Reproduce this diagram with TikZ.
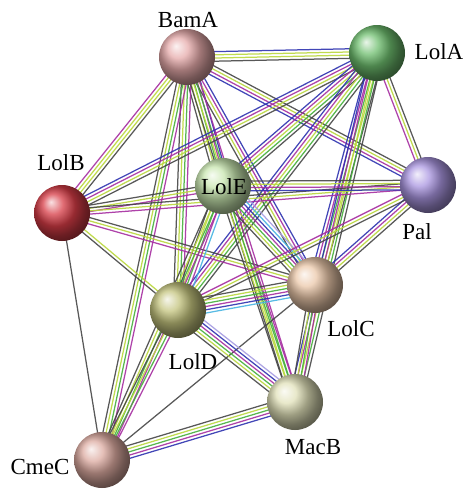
\documentclass[tikz,border=0pt]{standalone}
\usepackage{fontspec}
\setmainfont{Liberation Serif}
\usetikzlibrary{calc, backgrounds}
\definecolor{cK}{RGB}{70,70,70}
\definecolor{cY}{RGB}{185,215,60}
\definecolor{cG}{RGB}{70,175,60}
\definecolor{cP}{RGB}{165,45,160}
\definecolor{cB}{RGB}{45,50,175}
\definecolor{cC}{RGB}{70,180,225}
\definecolor{cH}{RGB}{165,155,225}
\definecolor{bama}{RGB}{230,170,170}
\definecolor{lola}{RGB}{110,190,110}
\definecolor{lolb}{RGB}{215,60,70}
\definecolor{lole}{RGB}{200,230,175}
\definecolor{pal}{RGB}{170,150,225}
\definecolor{lolc}{RGB}{235,200,170}
\definecolor{lold}{RGB}{195,195,125}
\definecolor{macb}{RGB}{225,225,185}
\definecolor{cmec}{RGB}{220,170,160}
\tikzset{
  prot/.style={circle, minimum size=56pt, inner sep=0pt, ball color=#1},
  lbl/.style={font=\fontsize{23}{25}\selectfont, inner sep=0pt},
  strand/.style={line width=1.25pt, opacity=0.9},
}
% one edge = several parallel strands, one per evidence colour
\newcommand\bundle[3]{%
  \foreach \c [count=\n] in {#3} {\xdef\nstr{\n}}%
  \foreach \c [count=\i] in {#3} {%
    \pgfmathsetmacro\off{(\i-(\nstr+1)/2)*3.2}%
    \draw[strand, \c] ($(#1)!\off pt!90:(#2)$) -- ($(#2)!\off pt!-90:(#1)$);
  }}

\begin{document}
\begin{tikzpicture}[x=1pt, y=-1pt]
  \useasboundingbox (0,0) rectangle (466,490);
  % proteins
  \node[prot=bama] (bama) at (187,57) {};
  \node[prot=lola] (lola) at (377,53) {};
  \node[prot=lolb] (lolb) at (62,213) {};
  \node[prot=lole] (lole) at (223,186) {};
  \node[prot=pal]  (pal)  at (428,185) {};
  \node[prot=lolc] (lolc) at (315,285) {};
  \node[prot=lold] (lold) at (178,310) {};
  \node[prot=macb] (macb) at (295,402) {};
  \node[prot=cmec] (cmec) at (102,460) {};
  % labels
  \node[lbl] (tbama) at (188,20) {BamA};
  \node[lbl] (tlola) at (439,52) {LolA};
  \node[lbl] (tlolb) at (61,163) {LolB};
  \node[lbl] (tlole) at (224,187) {LolE};
  \node[lbl] (tpal)  at (417,232) {Pal};
  \node[lbl] (tlolc) at (351,329) {LolC};
  \node[lbl] (tlold) at (193,362) {LolD};
  \node[lbl] (tmacb) at (313,447) {MacB};
  \node[lbl] (tcmec) at (40,467) {CmeC};
  % edges
  \begin{scope}[on background layer]
    \bundle{bama}{lola}{cK,cY,cY,cB}
    \bundle{bama}{lolb}{cP,cY,cY,cK}
    \bundle{bama}{lole}{cK,cY,cG,cP,cB}
    \bundle{bama}{pal}{cB,cP,cY,cK}
    \bundle{bama}{lolc}{cK,cY,cP,cB}
    \bundle{bama}{lold}{cK,cY,cG,cP}
    \bundle{bama}{macb}{cK,cY,cG,cP}
    \bundle{bama}{cmec}{cK,cY,cG,cP}
    \bundle{lola}{lolb}{cB,cP,cY,cK}
    \bundle{lola}{lole}{cB,cP,cY,cG,cK}
    \bundle{lola}{pal}{cP,cY,cK}
    \bundle{lola}{lolc}{cB,cP,cG,cY,cK}
    \bundle{lola}{lold}{cB,cP,cY,cG,cK}
    \bundle{lola}{macb}{cB,cP,cY,cG,cK}
    \bundle{lolb}{lole}{cP,cY,cK}
    \bundle{lolb}{pal}{cP,cY,cK}
    \bundle{lolb}{lolc}{cP,cY,cK}
    \bundle{lolb}{lold}{cK,cY}
    \bundle{lolb}{cmec}{cK}
    \bundle{lole}{pal}{cB,cP,cY,cK}
    \bundle{lole}{lolc}{cK,cY,cG,cP,cB,cC,cH}
    \bundle{lole}{lold}{cK,cY,cG,cP,cC}
    \bundle{lole}{macb}{cK,cY,cG,cP}
    \bundle{lole}{cmec}{cK,cY,cG,cP}
    \bundle{pal}{lolc}{cB,cP,cY,cK}
    \bundle{pal}{lold}{cP,cY,cK}
    \bundle{lolc}{lold}{cK,cY,cG,cP,cB,cC}
    \bundle{lolc}{macb}{cK,cY,cG,cP}
    \bundle{lolc}{cmec}{cK}
    \bundle{lold}{macb}{cK,cY,cG,cP,cB,cH}
    \bundle{lold}{cmec}{cK,cY,cG,cP}
    \bundle{macb}{cmec}{cK,cY,cG,cP,cB}
  \end{scope}
\end{tikzpicture}
\end{document}
